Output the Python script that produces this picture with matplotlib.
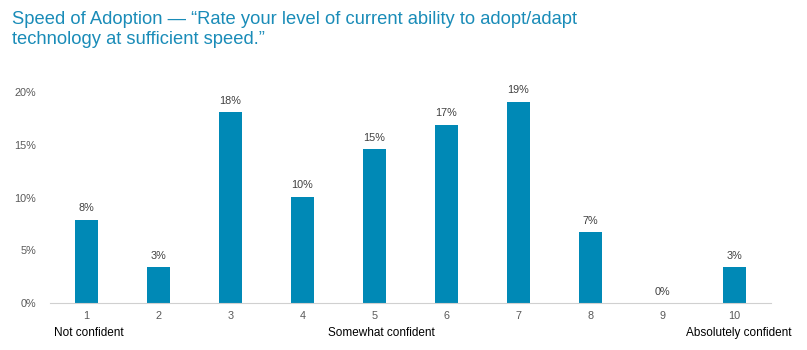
import matplotlib.pyplot as plt

plt.rcParams['font.family'] = ['Liberation Sans', 'DejaVu Sans']

scores = ['1', '2', '3', '4', '5', '6', '7', '8', '9', '10']
values = [7.9, 3.4, 18.1, 10.1, 14.6, 16.9, 19.1, 6.7, 0.0, 3.4]
labels = ['8%', '3%', '18%', '10%', '15%', '17%', '19%', '7%', '0%', '3%']
anchors = [(1, 'Not confident'), (5, 'Somewhat confident'), (10, 'Absolutely confident')]

fig = plt.figure(figsize=(8.07, 3.5), dpi=100)
ax = fig.add_axes([0.062, 0.134, 0.893, 0.603])

x = list(range(1, len(scores) + 1))
ax.bar(x, values, width=0.32, color='#0089b6')
for xi, v, lab in zip(x, values, labels):
    ax.text(xi, v + 0.6, lab, ha='center', va='bottom', fontsize=7.8, color='#404040')

ax.set_xlim(0.5, 10.5)
ax.set_ylim(0, 20)
ax.set_yticks([0, 5, 10, 15, 20])
ax.set_yticklabels(['0%', '5%', '10%', '15%', '20%'])
ax.set_xticks(x)
ax.set_xticklabels(scores)
ax.tick_params(axis='both', length=0, labelsize=7.8, labelcolor='#595959')
ax.tick_params(axis='y', pad=10)
ax.tick_params(axis='x', pad=6)
for s in ['top', 'right', 'left']:
    ax.spines[s].set_visible(False)
ax.spines['bottom'].set_color('#d0d0d0')

trans = ax.get_xaxis_transform()
ax.text(0.55, -0.115, anchors[0][1], transform=trans, ha='left', va='top', fontsize=8.5, color='black')
ax.text(anchors[1][0] + 0.1, -0.115, anchors[1][1], transform=trans, ha='center', va='top', fontsize=8.5, color='black')
ax.text(anchors[2][0] + 0.05, -0.115, anchors[2][1], transform=trans, ha='center', va='top', fontsize=8.5, color='black')

fig.text(0.015, 0.968, 'Speed of Adoption \u2014 \u201cRate your level of current ability to adopt/adapt\ntechnology at sufficient speed.\u201d',
         ha='left', va='top', fontsize=13.2, color='#1a8cb8', linespacing=1.2)

fig.savefig('out.png', dpi=100)
